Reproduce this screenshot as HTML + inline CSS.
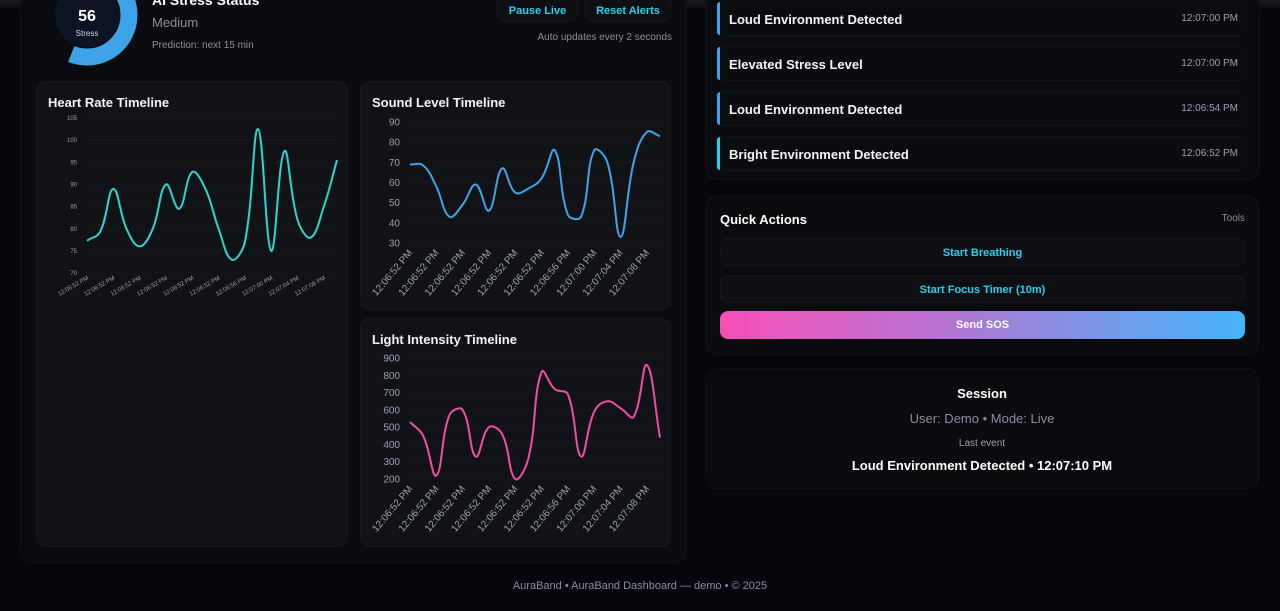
<!DOCTYPE html>
<html><head><meta charset="utf-8">
<style>
*{box-sizing:border-box;margin:0;padding:0}
body{width:1280px;height:611px;background:#05070c;font-family:"Liberation Sans",sans-serif;color:#fff;position:relative;overflow:hidden}
.abs{position:absolute}
.panel{position:absolute;background:#0a0b0f;border-radius:12px;border:1px solid #101218}
.card{position:absolute;background:#111216;border-radius:10px;border:1px solid #16181d}
.ctitle{position:absolute;left:11px;top:13px;font-size:13px;font-weight:bold;color:#f2f4f8}
.btn{position:absolute;background:#0e0f13;border:1px solid #15171c;border-radius:8px;color:#22d3ee;font-weight:bold;font-size:11px;text-align:center}
.alert{position:absolute;left:716px;width:531px;height:35px;background:#0b0c10;border-radius:8px;border:1px solid #111318}
.alert .bar{position:absolute;left:0;top:0;bottom:0;width:3px;border-radius:3px 0 0 3px;background:#3ea4ea}
.alert .t{position:absolute;left:12px;top:10px;font-size:13px;font-weight:bold;color:#f3f4f6}
.alert .tm{position:absolute;right:8px;top:11px;font-size:10px;color:#9aa0aa}
svg text{font-family:"Liberation Sans",sans-serif}
</style></head><body>
<div class="abs" style="left:0;top:0;width:1280px;height:10px;background:linear-gradient(#1a1a20,#05070c)"></div>
<div class="panel" style="left:20px;top:-20px;width:667px;height:583px"></div>

<svg class="abs" style="left:30px;top:-40px" width="120" height="120">
<circle cx="57" cy="55" r="42" fill="none" stroke="#3ea4ea" stroke-width="17" stroke-dasharray="147.8 300" transform="rotate(-90 57 55)"/>
<circle cx="57" cy="55" r="32" fill="#0c1322"/>
<text x="57" y="61" text-anchor="middle" font-size="16" font-weight="bold" fill="#fff">56</text>
<text x="57" y="76" text-anchor="middle" font-size="8" fill="#cbd5e1">Stress</text>
</svg>
<div class="abs" style="left:152px;top:-8px;font-size:14px;font-weight:bold">AI Stress Status</div>
<div class="abs" style="left:152px;top:15px;font-size:13px;color:#8b8f98">Medium</div>
<div class="abs" style="left:152px;top:40px;font-size:10px;color:#8b8f98">Prediction: next 15 min</div>
<div class="btn" style="left:497px;top:-6px;width:81px;height:28px;padding-top:10px">Pause Live</div>
<div class="btn" style="left:585px;top:-6px;width:86px;height:28px;padding-top:10px">Reset Alerts</div>
<div class="abs" style="left:520px;top:32px;width:152px;text-align:right;font-size:10px;color:#8b8f98">Auto updates every 2 seconds</div>

<div class="card" style="left:36px;top:81px;width:312px;height:466px"><div class="ctitle">Heart Rate Timeline</div></div>
<div class="card" style="left:360px;top:81px;width:311px;height:229px"><div class="ctitle">Sound Level Timeline</div></div>
<div class="card" style="left:360px;top:318px;width:311px;height:229px"><div class="ctitle">Light Intensity Timeline</div></div>
<svg id="charts" class="abs" style="left:0;top:0" width="700" height="611"></svg>

<div class="panel" style="left:705px;top:-20px;width:555px;height:200px"></div>
<div class="alert" style="top:1px"><div class="bar"></div><div class="t">Loud Environment Detected</div><div class="tm">12:07:00 PM</div></div>
<div class="alert" style="top:46px"><div class="bar"></div><div class="t">Elevated Stress Level</div><div class="tm">12:07:00 PM</div></div>
<div class="alert" style="top:91px"><div class="bar"></div><div class="t">Loud Environment Detected</div><div class="tm">12:06:54 PM</div></div>
<div class="alert" style="top:136px"><div class="bar" style="background:#22d3ee"></div><div class="t">Bright Environment Detected</div><div class="tm">12:06:52 PM</div></div>

<div class="panel" style="left:705px;top:195px;width:554px;height:160px"></div>
<div class="abs" style="left:720px;top:212px;font-size:13px;font-weight:bold">Quick Actions</div>
<div class="abs" style="left:1200px;top:213px;width:45px;text-align:right;font-size:10px;color:#8b8f98">Tools</div>
<div class="btn" style="left:720px;top:238px;width:525px;height:28px;padding-top:8px">Start Breathing</div>
<div class="btn" style="left:720px;top:275px;width:525px;height:28px;padding-top:8px">Start Focus Timer (10m)</div>
<div class="btn" style="left:720px;top:311px;width:525px;height:28px;padding-top:8px;border:none;color:#fff;background:linear-gradient(90deg,#f74fb5,#b870cf 40%,#7e95e6 70%,#44b4fc)">Send SOS</div>

<div class="panel" style="left:705px;top:368px;width:554px;height:121px"></div>
<div class="abs" style="left:705px;top:386px;width:554px;text-align:center;font-size:13px;font-weight:bold">Session</div>
<div class="abs" style="left:705px;top:411px;width:554px;text-align:center;font-size:13px;color:#8b8f98">User: Demo • Mode: Live</div>
<div class="abs" style="left:705px;top:438px;width:554px;text-align:center;font-size:10px;color:#9aa0aa">Last event</div>
<div class="abs" style="left:705px;top:458px;width:554px;text-align:center;font-size:13px;font-weight:bold">Loud Environment Detected • 12:07:10 PM</div>
<div class="abs" style="left:0;top:580px;width:1280px;text-align:center;font-size:11px;color:#8b8f98">AuraBand • AuraBand Dashboard — demo • © 2025</div>

<script>
const timeLabels=["12:06:52 PM","12:06:52 PM","12:06:52 PM","12:06:52 PM","12:06:52 PM","12:06:52 PM","12:06:56 PM","12:07:00 PM","12:07:04 PM","12:07:08 PM"];
const heartValues=[77.3,79.3,89,80,76,80,90,84.5,92.8,89,80,73,77,102.5,75,97.5,82,78,85,95.5];
const heartTicks=[70,75,80,85,90,95,100,105];
const soundValues=[69,68.5,58,43,49,59,46,67,55,57,62,76,44,43,76,70,33,70,85,83];
const soundTicks=[30,40,50,60,70,80,90];
const lightValues=[530,450,220,570,600,330,500,460,200,320,820,720,690,330,590,650,610,560,860,440];
const lightTicks=[200,300,400,500,600,700,800,900];

const NS="http://www.w3.org/2000/svg";
const svg=document.getElementById('charts');
function mk(tag,attrs){const e=document.createElementNS(NS,tag);for(const k in attrs)e.setAttribute(k,attrs[k]);svg.appendChild(e);return e;}
function drawChart(name,vals,ticks,box,color,fs,rot){
  const min=ticks[0],max=ticks[ticks.length-1];
  const xs=i=>box.x0+(box.x1-box.x0)*i/(vals.length-1);
  const ys=v=>box.y1-(v-min)/(max-min)*(box.y1-box.y0);
  ticks.forEach(t=>{
    const g=mk('line',{x1:box.x0,x2:box.x1,y1:ys(t),y2:ys(t),stroke:'#15171b','stroke-width':1});
    
    
    const tx=mk('text',{x:box.x0-10,y:ys(t)+fs*0.35,'text-anchor':'end','font-size':fs,fill:'#9aa3ad'});
    tx.textContent=t;
    
    
  });
  timeLabels.forEach((l,k)=>{
    const x=xs(k*2)+fs*0.3,y=box.y1+fs*1.0;
    const tx=mk('text',{x:x,y:y,'text-anchor':'end','font-size':fs,fill:'#9aa3ad',transform:`rotate(${rot} ${x} ${y})`});
    tx.textContent=l;
    
    
  });
  const P=vals.map((v,i)=>[xs(i),ys(v)]);
  const t=0.4;let d=`M${P[0][0]},${P[0][1]}`;
  const cps=P.map((p,i)=>{
    const a=P[Math.max(0,i-1)],c=P[Math.min(P.length-1,i+1)];
    const d01=Math.hypot(p[0]-a[0],p[1]-a[1]),d12=Math.hypot(c[0]-p[0],c[1]-p[1]);
    const s=d01+d12||1;const fa=t*d01/s,fb=t*d12/s;
    return {prev:[p[0]-fa*(c[0]-a[0]),p[1]-fa*(c[1]-a[1])],next:[p[0]+fb*(c[0]-a[0]),p[1]+fb*(c[1]-a[1])]};
  });
  for(let i=1;i<P.length;i++){const c1=cps[i-1].next,c2=cps[i].prev;d+=` C${c1[0]},${c1[1]} ${c2[0]},${c2[1]} ${P[i][0]},${P[i][1]}`;}
  const path=mk('path',{d:d,fill:'none',stroke:color,'stroke-width':2});
  
  
}
drawChart('heart-rate',heartValues,heartTicks,{x0:87,x1:337,y0:118,y1:273},'#2dd4d4',6,-30);
drawChart('sound-level',soundValues,soundTicks,{x0:410,x1:660,y0:122,y1:243},'#3ea4ea',10,-50);
drawChart('light-intensity',lightValues,lightTicks,{x0:410,x1:660,y0:358,y1:479},'#f04da6',10,-50);
</script>
</body></html>
